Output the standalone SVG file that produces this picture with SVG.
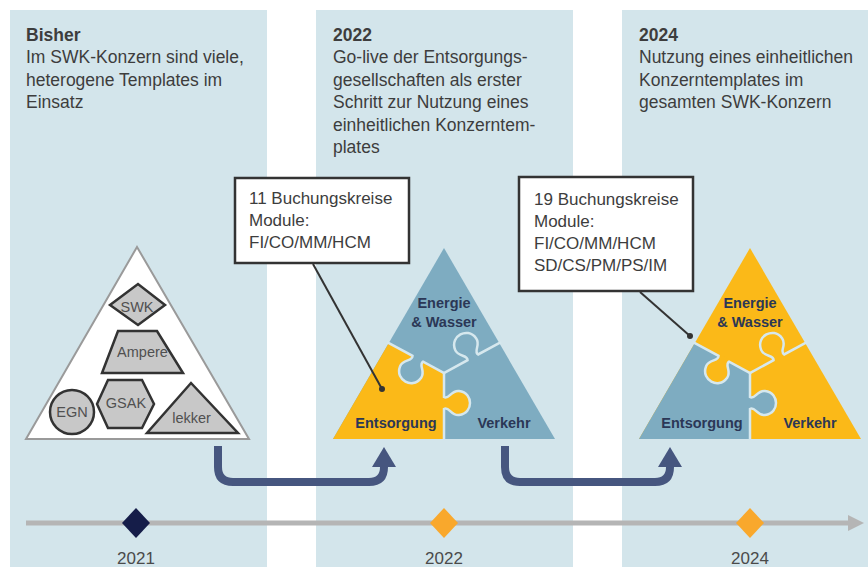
<svg xmlns="http://www.w3.org/2000/svg" width="868" height="567" viewBox="0 0 868 567">
<defs>
<style>
.bg{fill:#d3e5eb}
.t{font-family:"Liberation Sans",Arial,sans-serif;font-size:17.5px;fill:#3d3d3d}
.tb{font-weight:bold}
.c{font-family:"Liberation Sans",Arial,sans-serif;font-size:17px;fill:#3d3d3d}
.box{fill:#fff;stroke:#333;stroke-width:2.5}
.lead{stroke:#333;stroke-width:2;fill:none}
.shape{fill:#c8c8c8;stroke:#333;stroke-width:2.5}
.st{font-family:"Liberation Sans",Arial,sans-serif;font-size:14.5px;fill:#505050;text-anchor:middle}
.blue{fill:#7eacc1}
.yel{fill:#fbb918}
.sep{fill:none;stroke:#d6e8ee;stroke-width:2.5}
.pl{font-family:"Liberation Sans",Arial,sans-serif;font-size:14.5px;font-weight:bold;fill:#2b3756;text-anchor:middle}
.flow{fill:none;stroke:#46567f;stroke-width:8}
.head{fill:#46567f}
.year{font-family:"Liberation Sans",Arial,sans-serif;font-size:17px;fill:#4a4a4a;text-anchor:middle}
</style>
</defs>

<g id="columns">
<rect class="bg" x="10" y="10" width="257" height="557"/>
<rect class="bg" x="316" y="10" width="257" height="557"/>
<rect class="bg" x="622" y="10" width="246" height="557"/>
</g>

<g id="text-bisher">
<text class="t tb" x="26" y="41">Bisher</text>
<text class="t" x="26" y="63">Im SWK-Konzern sind viele,</text>
<text class="t" x="26" y="85.5">heterogene Templates im</text>
<text class="t" x="26" y="108">Einsatz</text>
</g>
<g id="text-2022">
<text class="t tb" x="333" y="41">2022</text>
<text class="t" x="333" y="63">Go-live der Entsorgungs-</text>
<text class="t" x="333" y="85.5">gesellschaften als erster</text>
<text class="t" x="333" y="108">Schritt zur Nutzung eines</text>
<text class="t" x="333" y="130.5">einheitlichen Konzerntem-</text>
<text class="t" x="333" y="153">plates</text>
</g>
<g id="text-2024">
<text class="t tb" x="639" y="41">2024</text>
<text class="t" x="639" y="63">Nutzung eines einheitlichen</text>
<text class="t" x="639" y="85.5">Konzerntemplates im</text>
<text class="t" x="639" y="108">gesamten SWK-Konzern</text>
</g>

<g id="pyramid-bisher">
<polygon points="137,247 26,439 249,439" fill="#fff" stroke="#9a9a9a" stroke-width="2"/>
<polygon class="shape" points="110,305 138,284 165,305 138,325"/>
<text class="st" x="137" y="312">SWK</text>
<polygon class="shape" points="118,331 157,331 183,373 102,373"/>
<text class="st" x="142.5" y="357">Ampere</text>
<polygon class="shape" points="97,404 108,380 142,380 154,404 142,428 108,428"/>
<text class="st" x="126" y="408">GSAK</text>
<circle class="shape" cx="72" cy="412" r="22"/>
<text class="st" x="72" y="417">EGN</text>
<polygon class="shape" points="191,383 238,433 147,433"/>
<text class="st" x="191.5" y="423">lekker</text>
</g>

<g id="puzzle-2022">
<polygon class="blue" points="444,248 333,439 555,439"/>
<polygon class="yel" points="388.8,343 444,373 444,439 333,439"/>
<path class="blue" transform="translate(388.8,343) rotate(28.5)" d="M27,-2 L27,0 C30,5 20,7 21,15 C22,23 28,26 33,26 C38,26 44,23 45,15 C46,7 36,5 39,0 L39,-2 Z"/>
<path class="yel" transform="translate(444,439) rotate(-90)" d="M30,-2 L30,0 C33,5 23,7 24,15 C25,23 31,26 36,26 C41,26 47,23 48,15 C49,7 39,5 42,0 L42,-2 Z"/>
<path class="sep" transform="translate(388.8,343) rotate(28.5)" d="M-2,0 H27 C30,5 20,7 21,15 C22,23 28,26 33,26 C38,26 44,23 45,15 C46,7 36,5 39,0 H63"/>
<path class="sep" transform="translate(499.2,343) rotate(151.5)" d="M-2,0 H24 C27,5 17,7 18,15 C19,23 25,26 30,26 C35,26 41,23 42,15 C43,7 33,5 36,0 H63"/>
<path class="sep" transform="translate(444,439) rotate(-90)" d="M0,0 H30 C33,5 23,7 24,15 C25,23 31,26 36,26 C41,26 47,23 48,15 C49,7 39,5 42,0 H66"/>
<text class="pl" x="444" y="308">Energie</text>
<text class="pl" x="444" y="327">&amp; Wasser</text>
<text class="pl" x="396" y="428">Entsorgung</text>
<text class="pl" x="504" y="428">Verkehr</text>
</g>

<g id="puzzle-2024" transform="translate(306,0)">
<polygon class="yel" points="444,248 333,439 555,439"/>
<polygon class="blue" points="388.8,343 444,373 444,439 333,439"/>
<path class="yel" transform="translate(388.8,343) rotate(28.5)" d="M27,-2 L27,0 C30,5 20,7 21,15 C22,23 28,26 33,26 C38,26 44,23 45,15 C46,7 36,5 39,0 L39,-2 Z"/>
<path class="blue" transform="translate(444,439) rotate(-90)" d="M30,-2 L30,0 C33,5 23,7 24,15 C25,23 31,26 36,26 C41,26 47,23 48,15 C49,7 39,5 42,0 L42,-2 Z"/>
<path class="sep" transform="translate(388.8,343) rotate(28.5)" d="M-2,0 H27 C30,5 20,7 21,15 C22,23 28,26 33,26 C38,26 44,23 45,15 C46,7 36,5 39,0 H63"/>
<path class="sep" transform="translate(499.2,343) rotate(151.5)" d="M-2,0 H24 C27,5 17,7 18,15 C19,23 25,26 30,26 C35,26 41,23 42,15 C43,7 33,5 36,0 H63"/>
<path class="sep" transform="translate(444,439) rotate(-90)" d="M0,0 H30 C33,5 23,7 24,15 C25,23 31,26 36,26 C41,26 47,23 48,15 C49,7 39,5 42,0 H66"/>
<text class="pl" x="444" y="308">Energie</text>
<text class="pl" x="444" y="327">&amp; Wasser</text>
<text class="pl" x="396" y="428">Entsorgung</text>
<text class="pl" x="504" y="428">Verkehr</text>
</g>

<g id="callout-2022">
<rect class="box" x="235" y="178" width="174" height="85"/>
<text class="c" x="249" y="204">11 Buchungskreise</text>
<text class="c" x="249" y="226">Module:</text>
<text class="c" x="249" y="248">FI/CO/MM/HCM</text>
</g>
<g id="callout-2024">
<rect class="box" x="519" y="177" width="174" height="114"/>
<text class="c" x="534" y="205">19 Buchungskreise</text>
<text class="c" x="534" y="227">Module:</text>
<text class="c" x="534" y="249">FI/CO/MM/HCM</text>
<text class="c" x="534" y="271">SD/CS/PM/PS/IM</text>
</g>

<g id="connectors">
<line class="lead" x1="313" y1="264" x2="382" y2="389"/>
<circle cx="382" cy="389" r="3" fill="#333"/>
<line class="lead" x1="640" y1="292" x2="690" y2="336"/>
<circle cx="690" cy="336" r="3" fill="#333"/>
<path class="flow" d="M218,446 V467 Q218,482 233,482 H369 Q384,482 384,467 V462"/>
<polygon class="head" points="384,447 372,467 396,467"/>
<path class="flow" d="M505,446 V467 Q505,482 520,482 H655 Q670,482 670,467 V462"/>
<polygon class="head" points="670,447 658,467 682,467"/>
</g>

<g id="timeline">
<line x1="26" y1="523" x2="850" y2="523" stroke="#b5b5b5" stroke-width="5"/>
<polygon points="848,515 864,523 848,531" fill="#b5b5b5"/>
<polygon points="136,508 150,523 136,538 122,523" fill="#151d49"/>
<polygon points="444,508 458,523 444,538 430,523" fill="#f9a82c"/>
<polygon points="750,508 764,523 750,538 736,523" fill="#f9a82c"/>
<text class="year" x="136" y="564">2021</text>
<text class="year" x="444" y="564">2022</text>
<text class="year" x="750" y="564">2024</text>
</g>
</svg>
